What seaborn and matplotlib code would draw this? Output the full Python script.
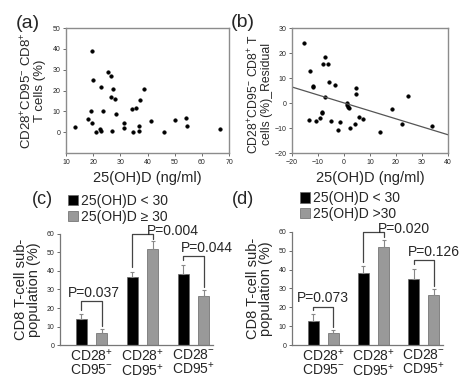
import numpy as np
import pandas as pd
import matplotlib
matplotlib.use("Agg")
import matplotlib.pyplot as plt
import seaborn as sns

# (a) 25(OH)D vs CD28+CD95- CD8+ T cells
a_vitd = [13.4, 18.0, 19.6, 19.2, 19.7, 20.1, 21.1, 22.7, 22.5, 23.0, 23.6,
          25.4, 26.7, 27.2, 26.6, 26.8, 28.2, 28.3, 31.3, 31.5, 34.3, 34.5,
          35.7, 36.8, 37.0, 37.4, 38.6, 41.2, 46.2, 50.1, 54.3, 54.7, 66.7]
a_cells = [2.7, 6.1, 39.0, 10.2, 4.6, 25.0, 0.2, 21.5, 1.4, 0.8, 10.0,
           29.0, 27.0, 20.5, 17.0, 0.8, 16.0, 8.6, 2.2, 4.6, 11.3, 0.3,
           11.6, 0.8, 3.0, 15.4, 20.7, 5.4, 0.0, 5.7, 6.7, 3.0, 1.4]

# (b) residuals
b_vitd = [-15.3, -13.6, -13.0, -12.1, -12.1, -10.7, -9.4, -8.5, -8.3, -8.1,
          -7.2, -7.3, -6.2, -5.8, -5.1, -3.3, -2.4, -1.7, 1.1, 1.3, 1.6, 1.8,
          2.4, 4.3, 4.5, 4.7, 5.6, 7.5, 13.8, 18.4, 22.3, 24.8, 34.0]
b_resid = [24.0, -6.8, 12.7, 7.0, 6.4, -7.2, -5.9, -3.6, -4.1, 15.5,
           18.5, 2.5, 15.5, 8.5, -7.2, 7.3, -10.9, -7.5, 0.2, -0.6, -1.4, -2.0,
           -9.9, -8.3, 3.5, 6.2, -5.6, -6.5, -11.4, -2.2, -8.3, 2.9, -9.1]
fit_x = [-20, 40]
fit_y = [6.4, -12.7]

# (c), (d) bar charts
subsets = ["CD28$^{+}$\nCD95$^{-}$", "CD28$^{+}$\nCD95$^{+}$", "CD28$^{-}$\nCD95$^{+}$"]
c_groups = ["25(OH)D < 30", "25(OH)D \u2265 30"]
c_low = [13.9, 36.5, 38.3]
c_low_err = [2.7, 2.9, 5.1]
c_high = [6.7, 52.0, 26.6]
c_high_err = [2.0, 4.0, 3.2]
c_p = ["P=0.037", "P=0.004", "P=0.044"]

d_groups = ["25(OH)D < 30", "25(OH)D >30"]
d_low = [12.9, 38.4, 34.9]
d_low_err = [3.3, 3.4, 5.7]
d_high = [6.2, 52.0, 26.5]
d_high_err = [1.7, 3.9, 3.1]
d_p = ["P=0.073", "P=0.020", "P=0.126"]

sns.set_style("white")
plt.rcParams["font.family"] = ["Liberation Sans", "DejaVu Sans"]
plt.rcParams["mathtext.fontset"] = "custom"
plt.rcParams["mathtext.rm"] = "Liberation Sans"
plt.rcParams["mathtext.it"] = "Liberation Sans"

fig = plt.figure(figsize=(4.61, 3.79), dpi=100)
ax_a = fig.add_axes([0.1432, 0.5963, 0.3536, 0.3298])
ax_b = fig.add_axes([0.6334, 0.5963, 0.3384, 0.3298])
ax_c = fig.add_axes([0.1302, 0.0897, 0.3319, 0.2929])
ax_d = fig.add_axes([0.6334, 0.0897, 0.3275, 0.2982])


def style_scatter(ax):
    for s in ax.spines.values():
        s.set_color("#8c8c8c")
        s.set_linewidth(1.0)
    ax.tick_params(axis="both", labelsize=5, length=2, width=0.6,
                   color="#555555", pad=2, direction="out")
    ax.tick_params(left=True, bottom=True)
    ax.grid(False)


# panel a
sns.scatterplot(x=a_vitd, y=a_cells, ax=ax_a, color="black", s=7,
                edgecolor="black", linewidth=0.3)
ax_a.set_xlim(10, 70)
ax_a.set_ylim(-10, 50)
ax_a.set_xticks(range(10, 71, 10))
ax_a.set_yticks(range(0, 51, 10))
ax_a.set_xlabel("25(OH)D (ng/ml)", fontsize=10.5, labelpad=4)
ax_a.set_ylabel("CD28$^{+}$CD95$^{-}$ CD8$^{+}$\nT cells (%)", fontsize=9.5,
                labelpad=5, linespacing=0.95)
style_scatter(ax_a)

# panel b
sns.scatterplot(x=b_vitd, y=b_resid, ax=ax_b, color="black", s=7,
                edgecolor="black", linewidth=0.3)
sns.lineplot(x=fit_x, y=fit_y, ax=ax_b, color="#555555", linewidth=0.9)
ax_b.set_xlim(-20, 40)
ax_b.set_ylim(-20, 30)
ax_b.set_xticks(range(-20, 41, 10))
ax_b.set_yticks(range(-20, 31, 10))
ax_b.set_xlabel("25(OH)D (ng/ml)", fontsize=10.5, labelpad=4)
ax_b.set_ylabel("CD28$^{+}$CD95$^{-}$ CD8$^{+}$ T\ncells (%)_Residual",
                fontsize=8.8, labelpad=4, linespacing=0.95)
ax_b.yaxis.set_label_coords(-0.12, 0.47)
style_scatter(ax_b)


def bar_panel(ax, groups, low, low_err, high, high_err, pvals, text_dx, pad):
    df = pd.DataFrame({
        "subset": subsets * 2,
        "group": [groups[0]] * 3 + [groups[1]] * 3,
        "value": low + high,
    })
    errs = low_err + high_err
    sns.barplot(data=df, x="subset", y="value", hue="group", ax=ax,
                palette=["black", "#999999"], width=0.8, gap=0.45,
                errorbar=None, edgecolor="#666666", linewidth=0.5)
    bars = ax.patches[:6]
    xs = [b.get_x() + b.get_width() / 2 for b in bars]
    tops = [b.get_height() for b in bars]
    ax.errorbar(xs, tops, yerr=[[0] * 6, errs], fmt="none", ecolor="#888888",
                elinewidth=0.8, capsize=1.5, capthick=0.8)
    for i in range(3):
        x0, x1 = xs[i], xs[i + 3]
        e0 = tops[i] + errs[i]
        e1 = tops[i + 3] + errs[i + 3]
        yb = min(max(e0, e1) + pad[i], 60)
        ax.plot([x0, x0, x1, x1], [e0 + 2.5, yb, yb, e1 + 1.5],
                color="#444444", linewidth=0.9, clip_on=False)
        ax.text((x0 + x1) / 2 + text_dx[i], min(yb + 4.5, 61.5), pvals[i],
                fontsize=10, ha="center", va="center")
    ax.set_xlim(-0.62, 2.38)
    ax.set_ylim(0, 60)
    ax.set_yticks(range(0, 61, 10))
    ax.set_xlabel("")
    ax.set_ylabel("CD8 T-cell sub-\npopulation (%)", fontsize=10.5,
                  labelpad=4, linespacing=0.95)
    ax.tick_params(axis="y", labelsize=5, length=2, width=0.6, pad=2,
                   left=True, color="#555555")
    ax.tick_params(axis="x", labelsize=10, length=0, pad=2)
    for lab in ax.get_xticklabels():
        lab.set_linespacing(0.9)
    sns.despine(ax=ax)
    for s in ["left", "bottom"]:
        ax.spines[s].set_color("#777777")
        ax.spines[s].set_linewidth(0.9)
    ax.legend(loc="upper left", bbox_to_anchor=(0.05, 1.36), frameon=False,
              fontsize=10, handlelength=0.75, handleheight=0.75,
              handletextpad=0.2, labelspacing=0.12, borderpad=0,
              borderaxespad=0)


bar_panel(ax_c, c_groups, c_low, c_low_err, c_high, c_high_err, c_p,
          [0.05, 0.6, 0.25], [7.0, 4.5, 4.5])
bar_panel(ax_d, d_groups, d_low, d_low_err, d_high, d_high_err, d_p,
          [0.0, 0.6, 0.2], [4.0, 4.5, 4.5])

fig.text(0.034, 0.925, "(a)", fontsize=14)
fig.text(0.500, 0.930, "(b)", fontsize=14)
fig.text(0.070, 0.462, "(c)", fontsize=13)
fig.text(0.503, 0.462, "(d)", fontsize=13)

fig.savefig("out.png", dpi=100)
